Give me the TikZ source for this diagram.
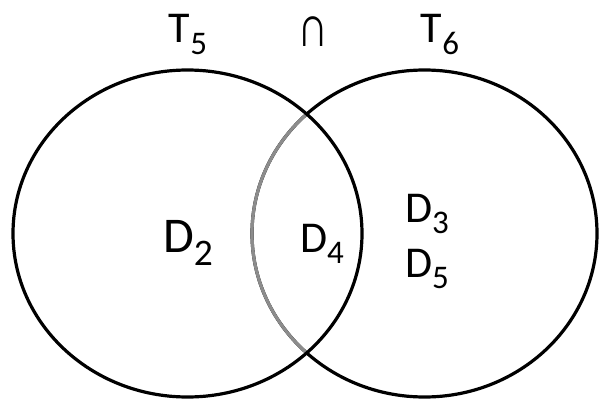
\documentclass[tikz,border=0pt]{standalone}
\usepackage{fontspec}
\setmainfont{Carlito}
\newcommand{\lowidx}[1]{\raisebox{-0.27em}{\scalebox{0.75}{#1}}}

\begin{document}
\begin{tikzpicture}[x=1pt, y=-1pt,
lbl/.style={inner sep=0pt, anchor=base, font=\fontsize{44}{50}\selectfont},
big/.style={lbl, font=\fontsize{50}{56}\selectfont},
ring/.style={line width=3.2pt, draw=black},
lens/.style={line width=3.2pt, draw=black!45}
]
\useasboundingbox (0,0) rectangle (601,398);
\coordinate (cl) at (187.5,233.5);
\coordinate (cr) at (424.5,233.5);

% right set, then its arc inside the left set in grey
\draw[ring] (cr) ellipse [x radius=172.5pt, y radius=163.5pt];
\begin{scope}
\clip (cl) ellipse [x radius=174.5pt, y radius=163.5pt];
\draw[lens] (cr) ellipse [x radius=172.5pt, y radius=163.5pt];
\end{scope}
\draw[ring] (cl) ellipse [x radius=174.5pt, y radius=163.5pt];

% labels
\node[lbl] (t5) at (188,43) {T\lowidx{5}};
\node[lbl] (cap) at (313,47) {\scalebox{0.95}[1.3]{∩}};
\node[lbl] (t6) at (440,43) {T\lowidx{6}};
\node[big] (d2) at (188,252) {D\lowidx{2}};
\node[lbl] (d4) at (322,252) {D\lowidx{4}};
\node[lbl] (d3) at (427,222) {D\lowidx{3}};
\node[lbl] (d5) at (427,277) {D\lowidx{5}};
\end{tikzpicture}
\end{document}
